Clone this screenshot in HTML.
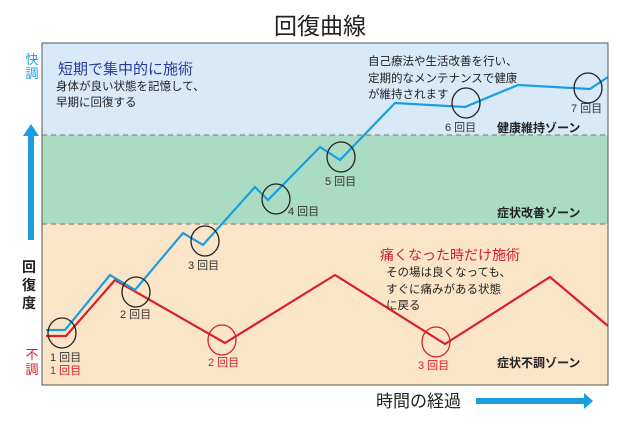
<!DOCTYPE html>
<html><head><meta charset="utf-8"><style>
html,body{margin:0;padding:0;background:#fff;}
svg{display:block;}
text{font-family:"Liberation Sans","Noto Sans CJK JP",sans-serif;}
</style></head><body>
<svg width="640" height="443" viewBox="0 0 640 443" xmlns="http://www.w3.org/2000/svg">
<rect x="0" y="0" width="640" height="443" fill="#fff"/>
<text x="320" y="34" font-size="23" text-anchor="middle" fill="#222">回復曲線</text>
<rect x="42" y="43" width="566" height="92" fill="#d8eaf8"/>
<rect x="42" y="135" width="566" height="89" fill="#a9dcc3"/>
<rect x="42" y="224" width="566" height="161" fill="#fbe5c8"/>
<line x1="42" y1="135" x2="608" y2="135" stroke="#8f9a98" stroke-width="1.5" stroke-dasharray="5,4"/>
<line x1="42" y1="224" x2="608" y2="224" stroke="#9a9a90" stroke-width="1.5" stroke-dasharray="5,4"/>
<rect x="42" y="43" width="566" height="342" fill="none" stroke="#555" stroke-width="1"/>
<!-- zone texts -->
<text x="58" y="74" font-size="15" fill="#2a3aa0">短期で集中的に施術</text>
<text x="56" y="90" font-size="11.5" fill="#222">身体が良い状態を記憶して、</text>
<text x="56" y="106" font-size="11.5" fill="#222">早期に回復する</text>
<text x="368" y="65" font-size="11.5" fill="#222">自己療法や生活改善を行い、</text>
<text x="368" y="82" font-size="11.5" fill="#222">定期的なメンテナンスで健康</text>
<text x="368" y="98" font-size="11.5" fill="#222">が維持されます</text>
<text x="497" y="132" font-size="12" font-weight="bold" fill="#222">健康維持ゾーン</text>
<text x="497" y="217" font-size="12" font-weight="bold" fill="#222">症状改善ゾーン</text>
<text x="497" y="367" font-size="12" font-weight="bold" fill="#222">症状不調ゾーン</text>
<text x="380" y="260" font-size="14" fill="#d0202e">痛くなった時だけ施術</text>
<text x="386" y="276" font-size="11.5" fill="#222">その場は良くなっても、</text>
<text x="386" y="293" font-size="11.5" fill="#222">すぐに痛みがある状態</text>
<text x="386" y="309" font-size="11.5" fill="#222">に戻る</text>
<!-- lines -->
<polyline points="46,336 66,336 115,280 225,343 335,275 445,344 550,277 608,326" fill="none" stroke="#d8202a" stroke-width="2.2"/>
<polyline points="46,330 65,330 110,275 135,290 183,233 203,245 255,187 268,200 320,147 340,160 395,103 465,107 518,85 590,89 608,77" fill="none" stroke="#1a9ee0" stroke-width="2.2"/>
<!-- circles -->
<g fill="none" stroke="#222" stroke-width="1.3">
<ellipse cx="62" cy="333" rx="14" ry="15"/>
<ellipse cx="136" cy="292" rx="14" ry="15"/>
<ellipse cx="205" cy="241" rx="14" ry="15"/>
<ellipse cx="276" cy="199" rx="14" ry="15"/>
<ellipse cx="341" cy="157" rx="14" ry="15"/>
<ellipse cx="466" cy="103" rx="14" ry="15"/>
<ellipse cx="588" cy="88" rx="14" ry="15"/>
</g>
<g fill="none" stroke="#d8202a" stroke-width="1.3">
<ellipse cx="222" cy="340" rx="14" ry="15"/>
<ellipse cx="436" cy="342" rx="14" ry="15"/>
</g>
<!-- count labels -->
<g font-size="11" fill="#333">
<text x="50" y="361">1 回目</text>
<text x="120" y="318">2 回目</text>
<text x="188" y="269">3 回目</text>
<text x="288" y="215">4 回目</text>
<text x="325" y="185">5 回目</text>
<text x="445" y="131">6 回目</text>
<text x="571" y="112">7 回目</text>
</g>
<g font-size="11" fill="#d8202a">
<text x="50" y="374">1 回目</text>
<text x="208" y="366">2 回目</text>
<text x="418" y="369">3 回目</text>
</g>
<!-- left axis -->
<text x="32" y="64" font-size="13" fill="#1a9ee0" text-anchor="middle">快</text>
<text x="32" y="78" font-size="13" fill="#1a9ee0" text-anchor="middle">調</text>
<polygon points="31,124 23,136 28,136 28,240 34,240 34,136 39,136" fill="#1a9ee0"/>
<text x="29" y="272" font-size="14" fill="#222" text-anchor="middle" font-weight="bold">回</text>
<text x="29" y="290" font-size="14" fill="#222" text-anchor="middle" font-weight="bold">復</text>
<text x="29" y="308" font-size="14" fill="#222" text-anchor="middle" font-weight="bold">度</text>
<text x="32" y="359" font-size="13" fill="#d8202a" text-anchor="middle">不</text>
<text x="32" y="374" font-size="13" fill="#d8202a" text-anchor="middle">調</text>
<!-- bottom axis -->
<text x="376" y="407" font-size="17" fill="#222">時間の経過</text>
<polygon points="476,398 584,398 584,393 593,401 584,409 584,404 476,404" fill="#1a9ee0"/>
</svg>
</body></html>
